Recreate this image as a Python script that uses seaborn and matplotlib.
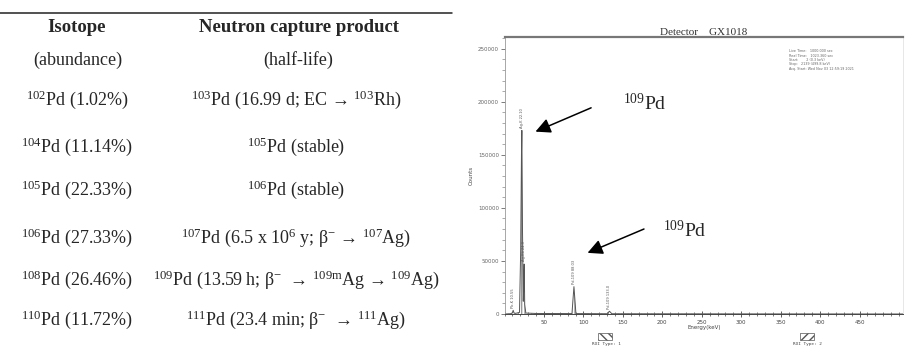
import matplotlib
matplotlib.use("Agg")
import matplotlib.pyplot as plt
from matplotlib.patches import Rectangle
from matplotlib.ticker import MultipleLocator
import seaborn as sns

# table: isotope / abundance / neutron capture product
isotopes = ["102", "104", "105", "106", "108", "110"]
abundances = ["1.02", "11.14", "22.33", "27.33", "26.46", "11.72"]
products = [
    "$^{103}$Pd (16.99 d; EC \u2192 $^{103}$Rh)",
    "$^{105}$Pd (stable)",
    "$^{106}$Pd (stable)",
    "$^{107}$Pd (6.5 x 10$^{6}$ y; \u03b2$^{-}$ \u2192 $^{107}$Ag)",
    "$^{109}$Pd (13.59 h; \u03b2$^{-}$  \u2192 $^{109\\mathrm{m}}$Ag \u2192 $^{109}$Ag)",
    "$^{111}$Pd (23.4 min; \u03b2$^{-}$  \u2192 $^{111}$Ag)",
]

# gamma spectrum (keV, counts)
energy = [0, 8, 10, 11, 12, 14, 19, 20.5, 21.5, 22, 22.8, 23.8, 24.5, 25, 25.6, 27,
          40, 85.5, 88, 90.5, 130, 133, 136, 300, 505]
counts = [0, 300, 1200, 3500, 1000, 600, 1500, 60000, 150000, 173000, 80000, 12000, 30000,
          47000, 9000, 900, 500, 400, 25800, 400, 250, 2600, 250, 100, 0]

peak_e = [11, 22, 25, 88, 133]
peak_h = [3500, 173000, 47000, 25800, 2600]
peak_txt = ["Pb-K 10.55", "Ag-K 22.10", "Ag-Kb 24.9", "Pd-109 88.03", "Pd-109 133.0"]

info = ["Live Time:   1000.000 sec", "Real Time:   1023.360 sec", "Start:       2 (0.3 keV)",
        "Stop:   2139 (499.8 keV)", "Acq. Start: Wed Nov 03 12:59:19 2021"]

sns.set_style("white")
plt.rcParams["font.family"] = ["Liberation Serif", "DejaVu Serif"]
plt.rcParams["mathtext.fontset"] = "custom"
plt.rcParams["mathtext.rm"] = "Liberation Serif"
plt.rcParams["mathtext.it"] = "Liberation Serif:italic"
plt.rcParams["mathtext.bf"] = "Liberation Serif:bold"

fig = plt.figure(figsize=(9.05, 3.48), dpi=100)

# background axes in pixel coordinates for the table and loose labels
bg = fig.add_axes([0, 0, 1, 1])
bg.set_xlim(0, 905)
bg.set_ylim(348, 0)
bg.axis("off")

bg.plot([0, 452], [13, 13], color="#222222", lw=1.1)
bg.text(77, 27, "Isotope", ha="center", va="center", fontsize=13.5, fontweight="bold")
bg.text(299, 27, "Neutron capture product", ha="center", va="center", fontsize=13.5, fontweight="bold")
bg.text(78, 60, "(abundance)", ha="center", va="center", fontsize=13)
bg.text(298, 60, "(half-life)", ha="center", va="center", fontsize=13)

row_y = [100, 147, 190, 238, 280, 320]
for yy, iso, ab, prod in zip(row_y, isotopes, abundances, products):
    bg.text(77, yy, "$^{%s}$Pd (%s%%)" % (iso, ab), ha="center", va="center", fontsize=13)
    bg.text(296, yy, prod, ha="center", va="center", fontsize=13)

# spectrum panel
ax = fig.add_axes([504.5 / 905, 34 / 348, 398.5 / 905, 277 / 348])
ax.fill_between(energy, counts, color="white", hatch="|||||", edgecolor="#999999", lw=0)
sns.lineplot(x=energy, y=counts, ax=ax, color="#555555", linewidth=0.7)
ax.set_xlim(0, 505)
ax.set_ylim(0, 261000)

ax.xaxis.set_major_locator(MultipleLocator(50))
ax.xaxis.set_minor_locator(MultipleLocator(10))
ax.yaxis.set_major_locator(MultipleLocator(50000))
ax.yaxis.set_minor_locator(MultipleLocator(10000))
ax.set_xticks(range(50, 500, 50))
ax.tick_params(axis="x", which="major", direction="inout", length=5, width=0.6,
               labelsize=4, colors="#444444", pad=1.5)
ax.tick_params(axis="x", which="minor", direction="inout", length=3, width=0.5, colors="#444444")
ax.tick_params(axis="y", which="major", direction="out", length=3, width=0.6,
               labelsize=4, colors="#666666", pad=1)
ax.tick_params(axis="y", which="minor", direction="out", length=2, width=0.5, colors="#888888")
ax.xaxis.set_ticks_position("bottom")
ax.yaxis.set_ticks_position("left")
for lab in ax.get_xticklabels() + ax.get_yticklabels():
    lab.set_family("DejaVu Sans")

ax.spines["top"].set_color("#777777")
ax.spines["top"].set_linewidth(1.6)
ax.spines["left"].set_color("#999999")
ax.spines["left"].set_linewidth(0.6)
ax.spines["right"].set_color("#dddddd")
ax.spines["right"].set_linewidth(0.5)
ax.spines["bottom"].set_color("#444444")
ax.spines["bottom"].set_linewidth(0.7)

ax.set_xlabel("Energy(keV)", fontsize=4, family="DejaVu Sans", color="#444444", labelpad=0)
ax.set_ylabel("Counts", fontsize=4, family="DejaVu Sans", color="#444444", labelpad=3)
ax.set_title("Detector    GX1018", fontsize=8, color="#333333", pad=1.5)

for e, h, t in zip(peak_e, peak_h, peak_txt):
    ax.text(e, h + 2500, t, rotation=90, ha="center", va="bottom", fontsize=2.6,
            family="DejaVu Sans", color="#555555")

ax.text(0.715, 0.955, "\n".join(info), transform=ax.transAxes, fontsize=2.4,
        family="DejaVu Sans", color="#666666", va="top", ha="left", linespacing=1.1)

# 109Pd arrows
ax.annotate("", xy=(36, 170800), xytext=(113, 195300),
            arrowprops=dict(arrowstyle="-|>,head_length=0.9,head_width=0.45", color="black", lw=1.1))
ax.text(178, 198000, "$^{109}$Pd", ha="center", va="center", fontsize=14)
ax.annotate("", xy=(102, 56600), xytext=(180, 81100),
            arrowprops=dict(arrowstyle="-|>,head_length=0.9,head_width=0.45", color="black", lw=1.1))
ax.text(228, 78500, "$^{109}$Pd", ha="center", va="center", fontsize=14)

# ROI legend boxes under the axis
bg.add_patch(Rectangle((598, 333), 14, 7, fill=False, hatch="\\\\\\\\", edgecolor="#555555", lw=0.5))
bg.text(606, 344, "ROI Type: 1", ha="center", va="center", fontsize=3.2, family="DejaVu Sans Mono",
        color="#444444")
bg.add_patch(Rectangle((800, 333), 14, 7, fill=False, hatch="////", edgecolor="#555555", lw=0.5))
bg.text(807, 344, "ROI Type: 2", ha="center", va="center", fontsize=3.2, family="DejaVu Sans Mono",
        color="#444444")

fig.savefig("out.png", dpi=100)
